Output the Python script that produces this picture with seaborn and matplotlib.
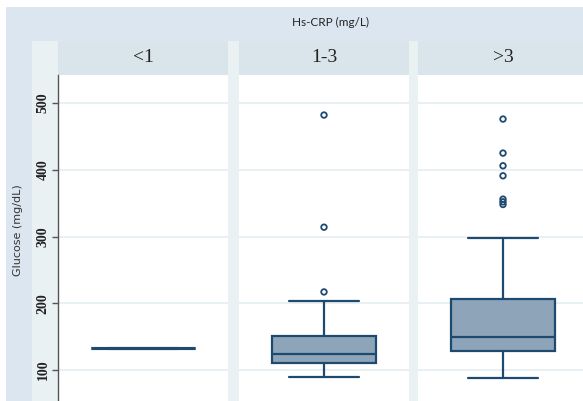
import numpy as np
import matplotlib.pyplot as plt
import seaborn as sns
from matplotlib.patches import Rectangle

# box summaries (glucose, mg/dL) per hs-CRP group
groups = ["<1", "1-3", ">3"]
q1 = [133, 110, 128]
med = [133, 124, 150]
q3 = [133, 151, 206]
whislo = [133, 89, 88]
whishi = [133, 204, 298]
out_lt1 = []
out_1to3 = [217, 314, 482]
out_gt3 = [348, 352, 356, 391, 406, 425, 476]
outliers = [out_lt1, out_1to3, out_gt3]
yticks = [100, 200, 300, 400, 500]

navy = "#1f4a70"
fill = "#8ea4b9"

sns.set_theme(style="white")

W, H = 583, 401
fig = plt.figure(figsize=(5.83, 4.01), dpi=100, facecolor="white")


def fx(px):
    return px / W


def fy(py):
    return 1 - py / H


def rect(x0, y0, x1, y1, color):
    fig.add_artist(Rectangle((fx(x0), fy(y1)), fx(x1) - fx(x0), fy(y0) - fy(y1),
                             transform=fig.transFigure, facecolor=color,
                             edgecolor="none", zorder=0))


# background bands
rect(6, 7, 583, 401, "#dce6f0")
rect(32, 41, 583, 401, "#e9f1f3")

panel_x = [58, 239, 418]
pw = 170

for i, g in enumerate(groups):
    x0 = panel_x[i]
    rect(x0, 41, x0 + pw, 75, "#d9e5eb")
    fig.text(fx(x0 + pw / 2), fy(58), g, ha="center", va="center",
             fontsize=14, family="Liberation Serif", color="#222222")

    ax = fig.add_axes([fx(x0), 0, pw / W, (401 - 75) / H])
    ax.set_facecolor("white")

    stats = dict(med=med[i], q1=q1[i], q3=q3[i], whislo=whislo[i],
                 whishi=whishi[i], fliers=[])
    lw = 2.2 if i == 0 else 1.6
    lp = dict(color=navy, lw=lw)
    ax.bxp([stats], positions=[0.5], widths=0.61, capwidths=0.41,
           patch_artist=True, showfliers=False, manage_ticks=False,
           boxprops=dict(facecolor=fill, edgecolor=navy, lw=lw),
           medianprops=lp, whiskerprops=lp, capprops=lp)

    if outliers[i]:
        sns.scatterplot(x=np.full(len(outliers[i]), 0.5), y=outliers[i], ax=ax,
                        marker="o", s=16, facecolors="none", edgecolors=navy,
                        linewidth=1.3, zorder=3)

    ax.set_xlim(0, 1)
    ax.set_ylim(53.6, 542)
    ax.set_yticks(yticks)
    ax.set_xticks([])
    ax.xaxis.label.set_visible(False)
    ax.yaxis.label.set_visible(False)
    ax.yaxis.grid(True, color="#e9f0f3", lw=1.4)
    ax.set_axisbelow(True)
    for s in ax.spines.values():
        s.set_visible(False)

    if i == 0:
        ax.spines["left"].set_visible(True)
        ax.spines["left"].set_color("#555555")
        ax.spines["left"].set_linewidth(1)
        ax.tick_params(axis="y", left=True, length=4, width=1, color="#555555", pad=2)
        ax.set_yticklabels([str(t) for t in yticks])
        for lbl in ax.get_yticklabels():
            lbl.set_rotation(90)
            lbl.set_va("center")
            lbl.set_family("Liberation Serif")
            lbl.set_fontsize(10)
            lbl.set_fontweight("bold")
            lbl.set_color("#222222")
    else:
        ax.tick_params(axis="y", left=False, labelleft=False)

fig.text(fx(18), fy(230), "Glucose (mg/dL)", rotation=90, ha="center", va="center",
         fontsize=8, color="#333333")
fig.text(fx(331), fy(22), "Hs-CRP (mg/L)", ha="center", va="center",
         fontsize=8.5, family="Lato", color="#222222")

fig.savefig("out.png", dpi=100)
